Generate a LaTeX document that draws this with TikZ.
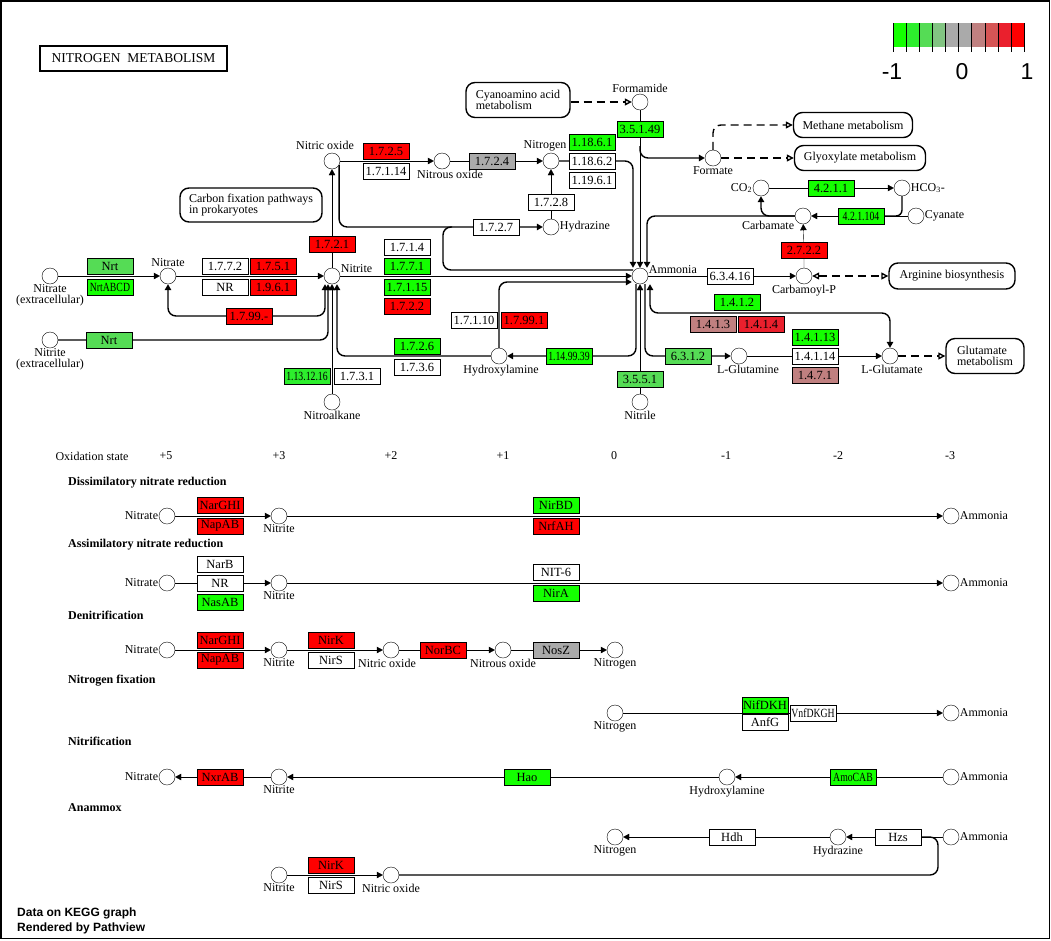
\documentclass[tikz,border=0pt]{standalone}
\usepackage{fontspec}
\setmainfont{Liberation Serif}
\setsansfont{Liberation Sans}
\usepackage{graphicx}
\usetikzlibrary{arrows.meta}
\pgfdeclarelayer{canvas}
\pgfdeclarelayer{edges}
\pgfsetlayers{canvas,edges,main}

% ---- Colour scale (-1 ... 1) ----
\definecolor{lgA}{RGB}{20,255,0}
\definecolor{lgB}{RGB}{45,238,45}
\definecolor{lgC}{RGB}{85,220,85}
\definecolor{lgD}{RGB}{130,196,130}
\definecolor{lgE}{RGB}{170,170,170}
\definecolor{lgF}{RGB}{170,170,170}
\definecolor{lgG}{RGB}{192,128,128}
\definecolor{lgH}{RGB}{214,85,85}
\definecolor{lgI}{RGB}{234,32,45}
\definecolor{lgJ}{RGB}{255,0,0}
\colorlet{upGreen}{lgA}
\colorlet{liteGreen}{lgB}
\colorlet{midGreen}{lgC}
\colorlet{midGrey}{lgE}
\colorlet{mauve}{lgG}
\colorlet{darkRed}{lgI}
\colorlet{upRed}{lgJ}

\newcommand{\narrowtxt}[1]{\scalebox{0.78}[1]{#1}}

\begin{document}
\begin{tikzpicture}[x=1pt, y=-1pt, line width=1pt,
	cpd/.style={circle, draw, fill=white, minimum size=16pt, inner sep=0pt},
	enz/.style={draw, minimum width=46pt, minimum height=16pt, inner sep=0pt, font=\fontsize{12.5}{12}\selectfont},
	mapbox/.style={draw, line width=1.4pt, fill=white, rounded corners=9pt, inner sep=0pt, align=left, font=\fontsize{12}{11}\selectfont},
	lbl/.style={inner sep=0.5pt, font=\fontsize{12}{11}\selectfont},
	head/.style={anchor=west, inner sep=0pt, font=\bfseries\fontsize{12}{12}\selectfont},
	bendline/.style={rounded corners=8pt, line width=1.4pt},
	rxn/.style={-{Triangle[length=6pt,width=6.5pt]}},
	rxnb/.style={{Triangle[length=6pt,width=6.5pt]}-{Triangle[length=6pt,width=6.5pt]}},
	link/.style={line width=1.4pt, dash pattern=on 8pt off 5pt, -{Triangle[open,length=7pt,width=7pt]}},
	linkb/.style={line width=1.4pt, dash pattern=on 8pt off 5pt, {Triangle[open,length=7pt,width=7pt]}-{Triangle[open,length=7pt,width=7pt]}}
	]
	
	% ---- Canvas and frame ----
	\useasboundingbox (0,0) rectangle (1051,940);
	\begin{pgfonlayer}{canvas}
		\fill[white] (0,0) rectangle (1051,940);
	\end{pgfonlayer}
	\draw[line width=1.5pt] (0.75,0.75) rectangle (1049.5,938.5);
	
	% ---- Title and legend ----
	\node[draw, line width=1.6pt, minimum width=187pt, minimum height=25pt, inner sep=0pt, font=\fontsize{13.5}{13}\selectfont] (title) at (133.5,58.5) {NITROGEN\ \ METABOLISM};
	\foreach \i/\col in {0/lgA,1/lgB,2/lgC,3/lgD,4/lgE,5/lgF,6/lgG,7/lgH,8/lgI,9/lgJ}
	\fill[\col] (893+\i*13.1,23) rectangle ++(13.1,24);
	\foreach \i in {0,...,10}
	\draw (893+\i*13.1,23) -- ++(0,29);
	\node[font=\sffamily\fontsize{23}{23}\selectfont] (legMin) at (892,72) {-1};
	\node[font=\sffamily\fontsize{23}{23}\selectfont] (legMid) at (962,72) {0};
	\node[font=\sffamily\fontsize{23}{23}\selectfont] (legMax) at (1027,72) {1};
	
	% ---- Compounds (map) ----
	\node[cpd, label={[lbl,align=center]below:Nitrate\\(extracellular)}] (nitrateEx) at (50,276) {};
	\node[cpd, label={[lbl,align=center]below:Nitrite\\(extracellular)}] (nitriteEx) at (50,340) {};
	\node[cpd, label={[lbl]above:Nitrate}] (nitrate) at (168,276) {};
	\node[cpd, label={[lbl,yshift=7pt]right:Nitrite}] (nitrite) at (332,276) {};
	\node[cpd, label={[lbl,xshift=-7pt,yshift=2pt]above:Nitric oxide}] (nitricOx) at (332,161) {};
	\node[cpd, label={[lbl,xshift=8pt]below:Nitrous oxide}] (nitrousOx) at (442,161) {};
	\node[cpd, label={[lbl,xshift=-6pt,yshift=1pt]above:Nitrogen}] (nitrogen) at (551,161) {};
	\node[cpd, label={[lbl]right:Hydrazine}] (hydrazine) at (551,227) {};
	\node[cpd, label={[lbl]above:Formamide}] (formamide) at (640,102) {};
	\node[cpd, label={[lbl]below:Formate}] (formate) at (713,158) {};
	\node[cpd, label={[lbl]left:CO\textsubscript{2}}] (co2) at (761,188) {};
	\node[cpd, label={[lbl]right:HCO\textsubscript{3}-}] (hco3) at (902,188) {};
	\node[cpd, label={[lbl,yshift=-9pt]left:Carbamate}] (carbamate) at (803,216) {};
	\node[cpd, label={[lbl]right:Cyanate}] (cyanate) at (916,216) {};
	\node[cpd, label={[lbl,yshift=6pt]right:Ammonia}] (ammonia) at (640,276) {};
	\node[cpd, label={[lbl]below:Carbamoyl-P}] (carbP) at (804,276) {};
	\node[cpd, label={[lbl,xshift=2pt]below:Hydroxylamine}] (hydroxyl) at (499,356) {};
	\node[cpd, label={[lbl]below:Nitroalkane}] (nitroalk) at (332,402) {};
	\node[cpd, label={[lbl]below:Nitrile}] (nitrile) at (640,402) {};
	\node[cpd, label={[lbl,xshift=9pt]below:L-Glutamine}] (glutamine) at (739,356) {};
	\node[cpd, label={[lbl,xshift=2pt]below:L-Glutamate}] (glutamate) at (890,356) {};
	
	% ---- Linked maps ----
	\node[mapbox, minimum width=104pt, minimum height=35pt] (mCyano) at (518,100) {Cyanoamino acid\\metabolism};
	\node[mapbox, minimum width=119pt, minimum height=25pt] (mMethane) at (853,125) {Methane metabolism};
	\node[mapbox, minimum width=131pt, minimum height=25pt] (mGlyox) at (860,158) {Glyoxylate metabolism};
	\node[mapbox, minimum width=142pt, minimum height=34pt] (mCarbon) at (251,205) {Carbon fixation pathways\\in prokaryotes};
	\node[mapbox, minimum width=126pt, minimum height=26pt] (mArg) at (952,276) {Arginine biosynthesis};
	\node[mapbox, minimum width=78pt, minimum height=35pt] (mGlu) at (985,356) {Glutamate\\metabolism};
	
	% ---- Enzymes (map) ----
	\foreach \nm/\x/\y/\col/\txt in {
		nrtA/110/266/midGreen/Nrt,
		nrtABCD/110/287/upGreen/\narrowtxt{NrtABCD},
		nrtB/109/340/midGreen/Nrt,
		e1772/225/266/white/1.7.7.2,
		e1751/273/266/upRed/1.7.5.1,
		eNR/225/287/white/NR,
		e1961/273/287/upRed/1.9.6.1,
		e1799x/249/316/upRed/1.7.99.-,
		e1721/332/244/upRed/1.7.2.1,
		e1725/386/151/upRed/1.7.2.5,
		e17114/386/171/white/1.7.1.14,
		e1724/492/161/midGrey/1.7.2.4,
		e11861/592/142/upGreen/1.18.6.1,
		e11862/592/161/white/1.18.6.2,
		e11961/592/180/white/1.19.6.1,
		e1728/551/202/white/1.7.2.8,
		e1727/496/227/white/1.7.2.7,
		e35149/640/129/upGreen/3.5.1.49,
		e4211/831/188/upGreen/4.2.1.1,
		e421104/861/216/upGreen/\narrowtxt{4.2.1.104},
		e2722/804/250/upRed/2.7.2.2,
		e63416/730/276/white/6.3.4.16,
		e1714/407/247/white/1.7.1.4,
		e1771/407/266/upGreen/1.7.7.1,
		e17115/407/287/upGreen/1.7.1.15,
		e1722/407/306/upRed/1.7.2.2,
		e17110/474/320/white/1.7.1.10,
		e17991/524/320/upRed/1.7.99.1,
		e1726/417/346/upGreen/1.7.2.6,
		e1736/417/367/white/1.7.3.6,
		e1131216/307/376/liteGreen/\narrowtxt{1.13.12.16},
		e1731/357/376/white/1.7.3.1,
		e1149939/569/356/upGreen/\narrowtxt{1.14.99.39},
		e6312/688/356/midGreen/6.3.1.2,
		e3551/640/379/midGreen/3.5.5.1,
		e1412/737/302/upGreen/1.4.1.2,
		e1413/713/324/mauve/1.4.1.3,
		e1414/761/324/darkRed/1.4.1.4,
		e14113/815/337/upGreen/1.4.1.13,
		e14114/815/356/white/1.4.1.14,
		e1471/815/375/mauve/1.4.7.1
	}
	{
		\node[enz, fill=\col] (\nm) at (\x,\y) {\txt};
	}
	
	% ---- Oxidation states and modules ----
	\node[lbl] (oxState) at (92,456) {Oxidation state};
	\foreach \v/\x in {+5/166, +3/279, +2/391, +1/503, 0/614, -1/726, -2/838, -3/950}
	\node[lbl] (ox\x) at (\x,456) {\v};
	\foreach \y/\txt in {483/Dissimilatory nitrate reduction, 545/Assimilatory nitrate reduction, 615/Denitrification, 681/Nitrogen fixation, 741/Nitrification, 808/Anammox}
	\node[head] (h\y) at (68,\y) {\txt};
	
	% ---- Compounds (modules) ----
	\node[cpd, label={[lbl]left:Nitrate}] (nitrateD) at (167,516) {};
	\node[cpd, label={[lbl]below:Nitrite}] (nitriteD) at (279,516) {};
	\node[cpd, label={[lbl]right:Ammonia}] (ammoniaD) at (951,516) {};
	\node[cpd, label={[lbl]left:Nitrate}] (nitrateA) at (167,583) {};
	\node[cpd, label={[lbl]below:Nitrite}] (nitriteA) at (279,583) {};
	\node[cpd, label={[lbl]right:Ammonia}] (ammoniaA) at (951,583) {};
	\node[cpd, label={[lbl]left:Nitrate}] (nitrateN) at (167,650) {};
	\node[cpd, label={[lbl]below:Nitrite}] (nitriteN) at (279,650) {};
	\node[cpd, label={[lbl,xshift=-4pt]below:Nitric oxide}] (noN) at (391,650) {};
	\node[cpd, label={[lbl]below:Nitrous oxide}] (n2oN) at (503,650) {};
	\node[cpd, label={[lbl]below:Nitrogen}] (n2N) at (615,650) {};
	\node[cpd, label={[lbl]below:Nitrogen}] (n2F) at (615,713) {};
	\node[cpd, label={[lbl]right:Ammonia}] (ammoniaF) at (951,713) {};
	\node[cpd, label={[lbl]left:Nitrate}] (nitrateT) at (167,777) {};
	\node[cpd, label={[lbl]below:Nitrite}] (nitriteT) at (279,777) {};
	\node[cpd, label={[lbl]below:Hydroxylamine}] (hydroxT) at (727,777) {};
	\node[cpd, label={[lbl]right:Ammonia}] (ammoniaT) at (951,777) {};
	\node[cpd, label={[lbl]below:Nitrogen}] (n2X) at (615,837) {};
	\node[cpd, label={[lbl]below:Hydrazine}] (hydrazX) at (838,837) {};
	\node[cpd, label={[lbl]right:Ammonia}] (ammoniaX) at (951,837) {};
	\node[cpd, label={[lbl]below:Nitrite}] (nitriteX) at (279,875) {};
	\node[cpd, label={[lbl]below:Nitric oxide}] (noX) at (391,875) {};
	
	% ---- Enzymes (modules) ----
	\foreach \nm/\x/\y/\col/\txt in {
		narGHIa/220/505/upRed/NarGHI,
		napABa/220/526/upRed/NapAB,
		nirBD/556/505/upGreen/NirBD,
		nrfAH/556/526/upRed/NrfAH,
		narB/220/564/white/NarB,
		nrA/220/583/white/NR,
		nasAB/220/602/upGreen/NasAB,
		nit6/556/572/white/NIT-6,
		nirA/556/593/upGreen/NirA,
		narGHIb/220/640/upRed/NarGHI,
		napABb/220/660/upRed/NapAB,
		nirKa/331/640/upRed/NirK,
		nirSa/331/660/white/NirS,
		norBC/443/650/upRed/NorBC,
		nosZ/556/650/midGrey/NosZ,
		nifDKH/765/705/upGreen/NifDKH,
		anfG/765/722/white/AnfG,
		vnf/813/713/white/\narrowtxt{VnfDKGH},
		nxrAB/220/777/upRed/NxrAB,
		hao/527/777/upGreen/Hao,
		amoCAB/853/777/upGreen/\narrowtxt{AmoCAB},
		hdh/732/837/white/Hdh,
		hzs/898/837/white/Hzs,
		nirKb/331/865/upRed/NirK,
		nirSb/331/885/white/NirS
	}
	{
		\node[enz, fill=\col] (\nm) at (\x,\y) {\txt};
	}
	
	% ---- Footer ----
	\node[anchor=west, align=left, inner sep=0pt, font=\sffamily\bfseries\fontsize{12}{15}\selectfont] (credit) at (17,920.5) {Data on KEGG graph\\Rendered by Pathview};
	
	% ---- Junction points ----
	\coordinate (jHyd) at (452,227);
	\coordinate (jAmm) at (633,270);
	\coordinate (jForm) at (640,146);
	\coordinate (kGlu) at (890,313);
	\coordinate (cHzs) at (938,875);
	
	\begin{pgfonlayer}{edges}
		% ---- Reactions (map) ----
		\draw[rxn] (nitrateEx) -- (nitrate);
		\draw[rxn] (nitrate) -- (nitrite);
		\draw[rxn, bendline] (e1799x) -| (nitrate);
		\draw[{Triangle[length=6pt,width=6.5pt]}-, bendline] ([xshift=-7pt]nitrite.south) |- (e1799x);
		\draw[rxn, bendline] (nitriteEx) -- (nrtB) -| ([xshift=-4pt]nitrite.south);
		\draw[rxn] (nitroalk) -- (nitrite);
		\draw[rxn, bendline] (hydroxyl) -| ([xshift=5pt]nitrite.south);
		\draw[rxn] (nitrite) -- (e1721) -- (nitricOx);
		\draw[rxn] (nitrite) -- (ammonia);
		\draw[rxn] (nitricOx) -- (nitrousOx);
		\draw[rxn] (nitrousOx) -- (e1724) -- (nitrogen);
		\draw[rxn, bendline] (nitricOx.-30) |- (e1727) -- (hydrazine);
		\draw[bendline] (jHyd) -- ++(-9,0) |- (jAmm);
		\draw[rxn] (hydrazine) -- (e1728) -- (nitrogen);
		\draw[rxn, bendline] (nitrogen) -- (e11862) -| ([xshift=-7pt]ammonia.north);
		\draw[rxn] (formamide) -- (e35149) -- (ammonia);
		\draw[rxn, bendline] (jForm) |- (formate);
		\draw[rxn, bendline] (carbamate) -| ([xshift=7pt]ammonia.north);
		\draw[rxn, bendline] (carbamate) -| (co2);
		\draw[rxn] (co2) -- (e4211) -- (hco3);
		\draw[rxn] (cyanate) -- (e421104) -- (carbamate);
		\draw[bendline, rounded corners=6pt] (e421104) -| (hco3);
		\draw[rxn] (carbP) -- (e2722) -- (carbamate);
		\draw[rxn] (ammonia) -- (e63416) -- (carbP);
		\draw[rxn, bendline] ([xshift=-4pt]ammonia.south) |- (e1149939) -- (hydroxyl);
		\draw[rxn, bendline] (hydroxyl) |- ([yshift=-6pt]ammonia.west);
		\draw[rxn] (nitrile) -- (e3551) -- (ammonia);
		\draw[rxn, bendline] ([xshift=5pt]ammonia.south) |- (e6312) -- (glutamine);
		\draw[rxnb, bendline] ([xshift=10pt]ammonia.south) |- (kGlu) -- (glutamate);
		\draw[rxn] (glutamine) -- (e14114) -- (glutamate);
		
		% ---- Map links ----
		\draw[link] (mCyano.east |- formamide) -- (formamide);
		\draw[link, bendline] (formate) |- (mMethane);
		\draw[link] (formate) -- (mGlyox);
		\draw[linkb] (carbP) -- (mArg);
		\draw[link] (glutamate) -- (mGlu);
		
		% ---- Reactions (modules) ----
		\draw[rxn] (nitrateD) -- (nitriteD);
		\draw[rxn] (nitriteD) -- (ammoniaD);
		\draw[rxn] (nitrateA) -- (nrA) -- (nitriteA);
		\draw[rxn] (nitriteA) -- (ammoniaA);
		\draw[rxn] (nitrateN) -- (nitriteN);
		\draw[rxn] (nitriteN) -- (noN);
		\draw[rxn] (noN) -- (norBC) -- (n2oN);
		\draw[rxn] (n2oN) -- (nosZ) -- (n2N);
		\draw[rxn] (n2F) -- (vnf) -- (ammoniaF);
		\draw[rxn] (ammoniaT) -- (amoCAB) -- (hydroxT);
		\draw[rxn] (hydroxT) -- (hao) -- (nitriteT);
		\draw[rxn] (nitriteT) -- (nxrAB) -- (nitrateT);
		\draw[rxn] (ammoniaX) -- (hzs) -- (hydrazX);
		\draw[rxn] (hydrazX) -- (hdh) -- (n2X);
		\draw[bendline] (hzs) -| (cHzs) -- (noX);
		\draw[rxn] (nitriteX) -- (noX);
	\end{pgfonlayer}
	
\end{tikzpicture}
\end{document}
